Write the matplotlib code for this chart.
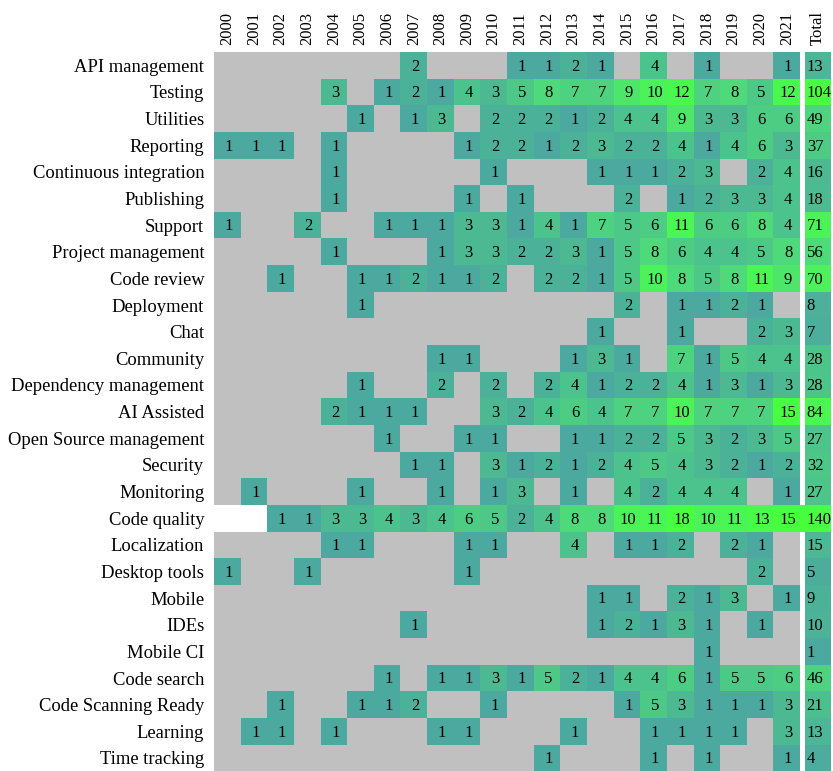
import matplotlib
matplotlib.use("Agg")
import matplotlib.pyplot as plt
import numpy as np
from matplotlib.colors import LinearSegmentedColormap, Normalize

plt.rcParams['font.family'] = ['Liberation Serif', 'DejaVu Serif']

years = [str(y) for y in range(2000, 2022)]

categories = ["API management", "Testing", "Utilities", "Reporting", "Continuous integration",
              "Publishing", "Support", "Project management", "Code review", "Deployment", "Chat",
              "Community", "Dependency management", "AI Assisted", "Open Source management",
              "Security", "Monitoring", "Code quality", "Localization", "Desktop tools", "Mobile",
              "IDEs", "Mobile CI", "Code search", "Code Scanning Ready", "Learning", "Time tracking"]

# counts per year, 2000 .. 2021
api_management = [0,0,0,0,0,0,0,2,0,0,0,1,1,2,1,0,4,0,1,0,0,1]
testing        = [0,0,0,0,3,0,1,2,1,4,3,5,8,7,7,9,10,12,7,8,5,12]
utilities      = [0,0,0,0,0,1,0,1,3,0,2,2,2,1,2,4,4,9,3,3,6,6]
reporting      = [1,1,1,0,1,0,0,0,0,1,2,2,1,2,3,2,2,4,1,4,6,3]
cont_integ     = [0,0,0,0,1,0,0,0,0,0,1,0,0,0,1,1,1,2,3,0,2,4]
publishing     = [0,0,0,0,1,0,0,0,0,1,0,1,0,0,0,2,0,1,2,3,3,4]
support        = [1,0,0,2,0,0,1,1,1,3,3,1,4,1,7,5,6,11,6,6,8,4]
project_mgmt   = [0,0,0,0,1,0,0,0,1,3,3,2,2,3,1,5,8,6,4,4,5,8]
code_review    = [0,0,1,0,0,1,1,2,1,1,2,0,2,2,1,5,10,8,5,8,11,9]
deployment     = [0,0,0,0,0,1,0,0,0,0,0,0,0,0,0,2,0,1,1,2,1,0]
chat           = [0,0,0,0,0,0,0,0,0,0,0,0,0,0,1,0,0,1,0,0,2,3]
community      = [0,0,0,0,0,0,0,0,1,1,0,0,0,1,3,1,0,7,1,5,4,4]
dependency     = [0,0,0,0,0,1,0,0,2,0,2,0,2,4,1,2,2,4,1,3,1,3]
ai_assisted    = [0,0,0,0,2,1,1,1,0,0,3,2,4,6,4,7,7,10,7,7,7,15]
oss_mgmt       = [0,0,0,0,0,0,1,0,0,1,1,0,0,1,1,2,2,5,3,2,3,5]
security       = [0,0,0,0,0,0,0,1,1,0,3,1,2,1,2,4,5,4,3,2,1,2]
monitoring     = [0,1,0,0,0,1,0,0,1,0,1,3,0,1,0,4,2,4,4,4,0,1]
code_quality   = [0,0,1,1,3,3,4,3,4,6,5,2,4,8,8,10,11,18,10,11,13,15]
localization   = [0,0,0,0,1,1,0,0,0,1,1,0,0,4,0,1,1,2,0,2,1,0]
desktop_tools  = [1,0,0,1,0,0,0,0,0,1,0,0,0,0,0,0,0,0,0,0,2,0]
mobile         = [0,0,0,0,0,0,0,0,0,0,0,0,0,0,1,1,0,2,1,3,0,1]
ides           = [0,0,0,0,0,0,0,1,0,0,0,0,0,0,1,2,1,3,1,0,1,0]
mobile_ci      = [0,0,0,0,0,0,0,0,0,0,0,0,0,0,0,0,0,0,1,0,0,0]
code_search    = [0,0,0,0,0,0,1,0,1,1,3,1,5,2,1,4,4,6,1,5,5,6]
code_scanning  = [0,0,1,0,0,1,1,2,0,0,1,0,0,0,0,1,5,3,1,1,1,3]
learning       = [0,1,1,0,1,0,0,0,1,1,0,0,0,1,0,0,1,1,1,1,0,3]
time_tracking  = [0,0,0,0,0,0,0,0,0,0,0,0,1,0,0,0,1,0,1,0,0,1]

rows = [api_management, testing, utilities, reporting, cont_integ, publishing, support,
        project_mgmt, code_review, deployment, chat, community, dependency, ai_assisted,
        oss_mgmt, security, monitoring, code_quality, localization, desktop_tools, mobile,
        ides, mobile_ci, code_search, code_scanning, learning, time_tracking]
highlight = "Code quality"

data = np.array(rows)
totals = data.sum(axis=1)
n_rows, n_cols = data.shape
hi = categories.index(highlight)

cmap = LinearSegmentedColormap.from_list(
    "tealgreen", [(0.0, "#4ca9a0"), (0.214, "#4cc28c"), (0.5, "#4ed97a"),
                  (0.643, "#4cf25a"), (1.0, "#47ff3e")])
cmap.set_bad("#c0c0c0")
norm_years = Normalize(vmin=1, vmax=15, clip=True)
norm_total = Normalize(vmin=1, vmax=110, clip=True)

gap = 0.17
fig = plt.figure(figsize=(8.33, 7.71), dpi=100)
W, H = 833, 771
cell = 26.64
ax = fig.add_axes([214 / W, (H - 52 - n_rows * cell) / H,
                   (n_cols + gap + 1) * cell / W, n_rows * cell / H])

yedges = np.arange(n_rows + 1)
masked = np.ma.masked_equal(data, 0)
ax.pcolormesh(np.arange(n_cols + 1), yedges, masked, cmap=cmap, norm=norm_years)

# highlighted row: empty cells white instead of grey
hl = np.ma.masked_all(data.shape)
for j in range(n_cols):
    if data[hi, j] == 0:
        hl[hi, j] = 0
ax.pcolormesh(np.arange(n_cols + 1), yedges, hl,
              cmap=LinearSegmentedColormap.from_list("w", ["white", "white"]))

tx = [n_cols + gap, n_cols + gap + 1]
ax.pcolormesh(tx, yedges, totals.reshape(-1, 1), cmap=cmap, norm=norm_total)
# highlighted row runs through the separator
ax.pcolormesh([n_cols, n_cols + gap], [hi, hi + 1], [[totals[hi]]], cmap=cmap, norm=norm_total)

for i in range(n_rows):
    for j in range(n_cols):
        if data[i, j]:
            ax.text(j + 0.55, i + 0.55, str(data[i, j]), ha="center", va="center", fontsize=12)
    ax.text(n_cols + gap + 0.08, i + 0.55, str(totals[i]), ha="left", va="center", fontsize=12)

ax.set_xlim(0, n_cols + gap + 1)
ax.set_ylim(n_rows, 0)
ax.set_yticks(np.arange(n_rows) + 0.5)
ax.set_yticklabels(categories, fontsize=13.4)
ax.set_xticks(list(np.arange(n_cols) + 0.5) + [n_cols + gap + 0.5])
ax.set_xticklabels(years + ["Total"], rotation=90, fontsize=12)
ax.get_xticklabels()[-1].set_fontsize(14)
ax.xaxis.tick_top()
ax.tick_params(length=0, pad=5)
ax.tick_params(axis="y", pad=7)
for s in ax.spines.values():
    s.set_visible(False)

fig.savefig("out.png", dpi=100)
